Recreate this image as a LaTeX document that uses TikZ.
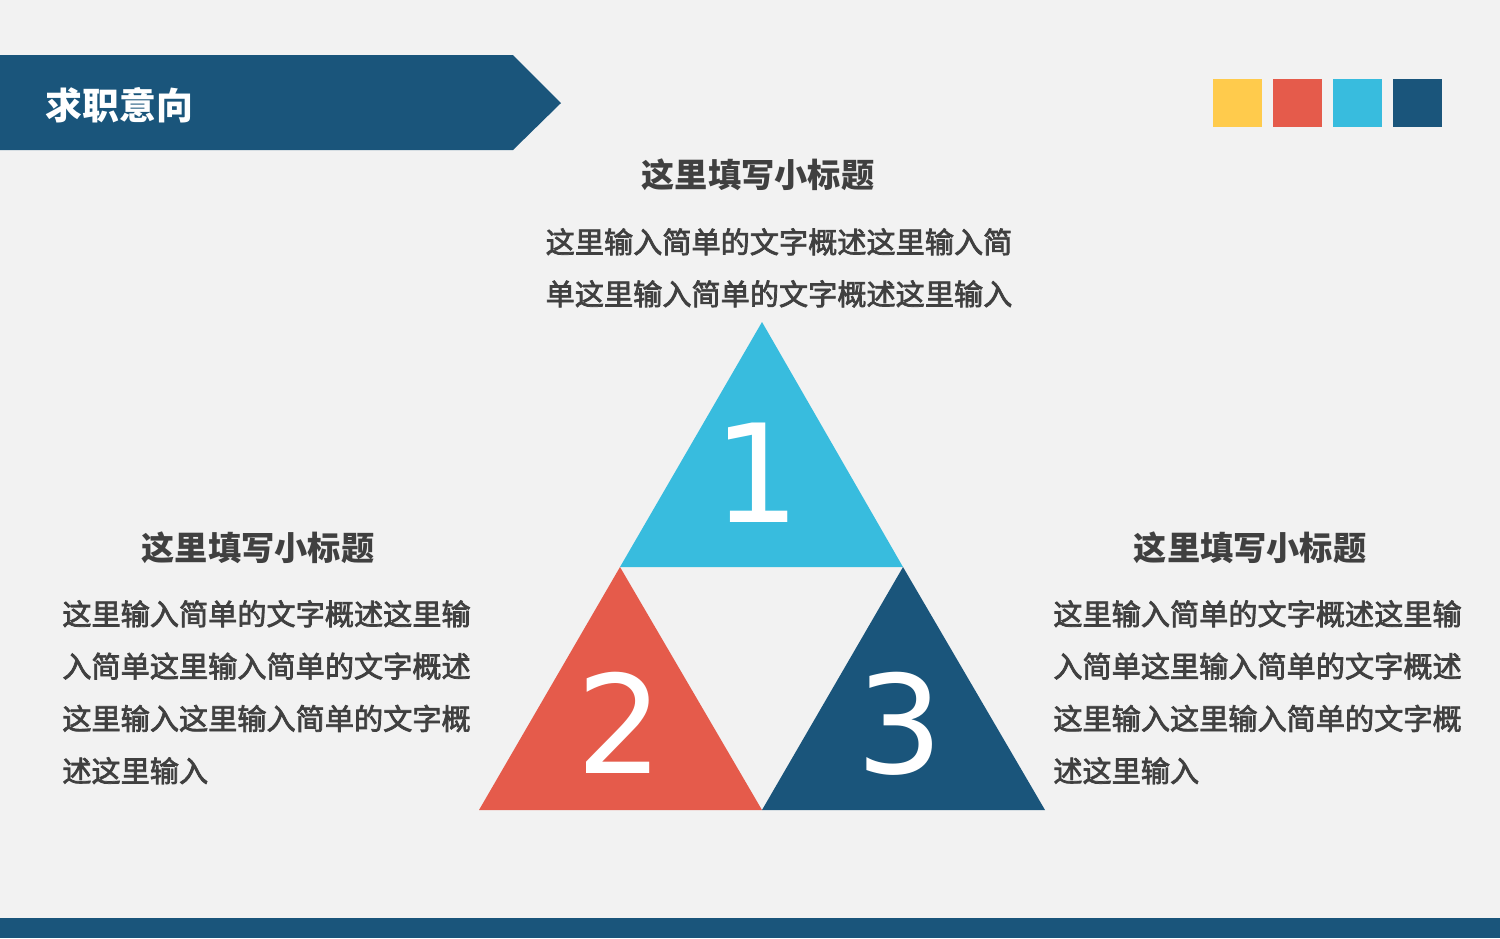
\documentclass[tikz,border=0pt]{standalone}
\usepackage{fontspec}
\setmainfont{Noto Sans CJK SC}
\newfontfamily\bodyfont[FakeBold=2.5]{Noto Sans CJK SC}
\newfontfamily\digitfont{DejaVu Sans}
\usepackage{xcolor}
\definecolor{navy}{HTML}{1A557B}
\definecolor{coral}{HTML}{E55B4B}
\definecolor{sky}{HTML}{38BCDE}
\definecolor{sun}{HTML}{FFCB4C}
\definecolor{paper}{HTML}{F2F2F2}
\definecolor{ink}{HTML}{404040}
\newcommand{\swatch}[2]% left x, colour
{\fill[#2] (#1,79) rectangle ++(49,48);
}

\begin{document}
\begin{tikzpicture}[x=0.02cm,y=-0.02cm,
  subtitle/.style={font=\bfseries\fontsize{18.9}{22}\selectfont,text=ink,inner sep=0pt,anchor=base},
  bodyline/.style={font=\bodyfont\fontsize{16.6}{20}\selectfont,text=ink,inner sep=0pt},
  digit/.style={font=\digitfont\fontsize{77.7}{80}\selectfont,text=white,inner sep=0pt,anchor=base}]
\fill[paper] (0,0) rectangle (1500,938);
\useasboundingbox (0,0) rectangle (1500,938);
% header banner
\fill[navy] (0,55) -- (513,55) -- (561,103) -- (513,150) -- (0,150) -- cycle;
\node[font=\bfseries\fontsize{21}{24}\selectfont,text=white,inner sep=0pt,anchor=base west] (title) at (45,119) {求职意向};
\swatch{1213}{sun}
\swatch{1273}{coral}
\swatch{1333}{sky}
\swatch{1393}{navy}
\fill[navy] (0,918) rectangle (1500,938);
% triangles
\coordinate (top) at (762,322);
\coordinate (ml) at (620,567);
\coordinate (mr) at (903,567);
\coordinate (bl) at (479,810);
\coordinate (bm) at (762,810);
\coordinate (br) at (1045,810);
\fill[sky] (top) -- (mr) -- (ml) -- cycle;
\fill[coral] (ml) -- (bm) -- (bl) -- cycle;
\fill[navy] (mr) -- (br) -- (bm) -- cycle;
\node[digit] (one) at (757,522) {1};
\node[digit] (two) at (620,773) {2};
\node[digit] (three) at (900,773) {3};
% texts
\node[subtitle] (ttop) at (758,187) {这里填写小标题};
\node[bodyline,anchor=base] (tb1) at (779,253) {这里输入简单的文字概述这里输入简};
\node[bodyline,anchor=base] (tb2) at (779,305) {单这里输入简单的文字概述这里输入};
\node[subtitle] (tleft) at (258,560) {这里填写小标题};
\node[subtitle] (tright) at (1250,560) {这里填写小标题};
\foreach \t [count=\i] in {这里输入简单的文字概述这里输,入简单这里输入简单的文字概述,这里输入这里输入简单的文字概,述这里输入}{
  \node[bodyline,anchor=base west] (lb\i) at (62,625+52.3*\i-52.3) {\t};
  \node[bodyline,anchor=base west] (rb\i) at (1053,625+52.3*\i-52.3) {\t};
}
\end{tikzpicture}
\end{document}
